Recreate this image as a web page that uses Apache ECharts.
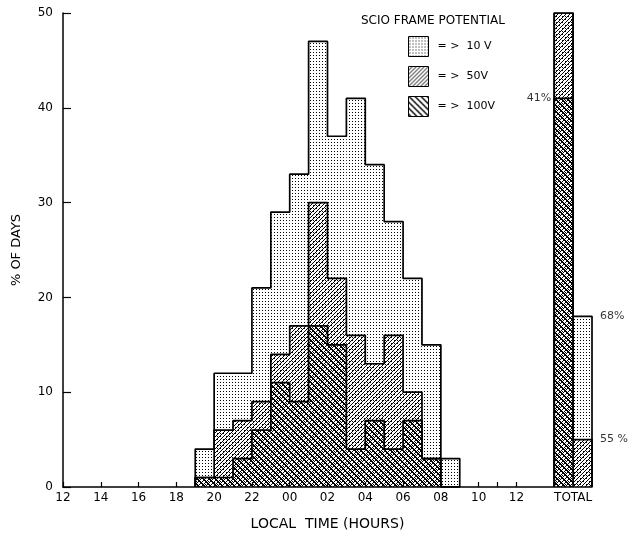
<!DOCTYPE html>
<html>
<head>
<meta charset="utf-8">
<script src="https://cdn.jsdelivr.net/npm/echarts@6/dist/echarts.min.js"></script>
<style>
  * { margin: 0; padding: 0; }
  body { background: #fff; }
  #chart { width: 629px; height: 536px; }
</style>
</head>
<body>
<div id="chart"></div>
<script>
// start hour of each 1-hour bin (local time)
const binHours = ['19','20','21','22','23','00','01','02','03','04','05','06','07','08'];
// % of days with frame potential above each level
const pct10V  = [4, 12, 12, 21, 29, 33, 47, 37, 41, 34, 28, 22, 15, 3];
const pct50V  = [1,  6,  7,  9, 14, 17, 30, 22, 16, 13, 16, 10,  3, 0];
const pct100V = [1,  1,  3,  6, 11,  9, 17, 15,  4,  7,  4,  7,  3, 0];
// totals, order 10V / 50V / 100V
const totalPct = [68, 55, 41];
const totalLabels = ['68%', '55 %', '41%'];
const seriesNames = ['= >  10 V', '= >  50V', '= >  100V'];
const xTickLabels = ['12','14','16','18','20','22','00','02','04','06','08','10','12'];

const FONT = 'DejaVu Sans';
const YMAX = 50;       // axis top, totals above it go into the second column
const TOTAL_X = 26;    // hours after 12:00 where the total columns start

// hour string -> hours after 12:00
function hourPos(h) { return (parseInt(h, 10) + 12) % 24; }

// small canvas tiles used as fills
function makeTile(size, draw) {
  const c = document.createElement('canvas');
  c.width = size; c.height = size;
  const ctx = c.getContext('2d');
  ctx.fillStyle = '#000';
  draw(ctx, size);
  return { image: c, repeat: 'repeat' };
}
const dotFill = makeTile(3, function (ctx) { ctx.fillRect(1, 1, 1, 1); });
const slashFill = makeTile(4, function (ctx, s) {
  for (let i = 0; i < s; i++) ctx.fillRect(i, s - 1 - i, 1, 1);
});
const backFill = makeTile(6, function (ctx, s) {
  for (let i = 0; i < s; i++) { ctx.fillRect(i, i, 1, 1); ctx.fillRect((i + 1) % s, i, 1, 1); }
});
const fills = [dotFill, slashFill, backFill];

function buildBins(vals, total) {
  const d = binHours.map(function (h, i) { return [hourPos(h), hourPos(h) + 1, vals[i]]; });
  d.push([TOTAL_X, TOTAL_X + 1, Math.min(total, YMAX)]);
  if (total > YMAX) d.push([TOTAL_X + 1, TOTAL_X + 2, total - YMAX]);
  return d;
}

// step outline points for each run of adjacent bins
function outlineRuns(bins) {
  const runs = [];
  let cur = null;
  bins.forEach(function (b) {
    if (!cur || cur.end !== b[0]) {
      cur = { end: b[1], pts: [[b[0], 0], [b[0], b[2]]] };
      runs.push(cur);
    } else {
      cur.pts.push([b[0], b[2]]);
      cur.end = b[1];
    }
    cur.last = b;
  });
  runs.forEach(function (r) { r.pts.push([r.last[1], r.last[2]]); r.pts.push([r.last[1], 0]); });
  return runs.map(function (r) { return r.pts; });
}

const allPct = [pct10V, pct50V, pct100V];
const series = [];
allPct.forEach(function (vals, k) {
  const bins = buildBins(vals, totalPct[k]);
  series.push({
    name: seriesNames[k],
    type: 'custom',
    itemStyle: { color: fills[k] },
    data: bins,
    encode: { x: [0, 1], y: 2 },
    silent: true,
    z: 2,
    renderItem: function (params, api) {
      const p0 = api.coord([api.value(0), 0]);
      const p1 = api.coord([api.value(1), api.value(2)]);
      return {
        type: 'rect',
        shape: { x: p0[0], y: p1[1], width: p1[0] - p0[0], height: p0[1] - p1[1] },
        style: { fill: fills[k], stroke: null }
      };
    }
  });
  outlineRuns(bins).forEach(function (pts) {
    series.push({
      type: 'line',
      step: 'end',
      data: pts,
      symbol: 'none',
      silent: true,
      z: 4,
      lineStyle: { color: '#000', width: 1.7 }
    });
  });
});

// percentage notes beside the total columns
const noteData = totalPct.map(function (t, k) {
  return t > YMAX
    ? { value: [TOTAL_X + 2, t - YMAX], name: totalLabels[k], label: { position: 'right', distance: 8 } }
    : { value: [TOTAL_X, t], name: totalLabels[k], label: { position: 'left', distance: 3 } };
});
series.push({
  type: 'scatter',
  symbolSize: 0,
  silent: true,
  data: noteData,
  label: {
    show: true,
    formatter: '{b}',
    color: '#000',
    fontFamily: FONT,
    fontSize: 11
  }
});

const xLabelVals = xTickLabels.map(function (s, i) { return i * 2; }).concat([TOTAL_X + 1]);

const chart = echarts.init(document.getElementById('chart'));
chart.setOption({
  animation: false,
  backgroundColor: '#fff',
  title: {
    text: 'SCIO FRAME POTENTIAL',
    left: 356,
    top: 10,
    textStyle: { fontFamily: FONT, fontSize: 12, fontWeight: 'normal', color: '#000' }
  },
  legend: {
    data: seriesNames,
    orient: 'vertical',
    left: 403,
    top: 31,
    itemWidth: 20,
    itemHeight: 20,
    itemGap: 9,
    selectedMode: false,
    icon: 'rect',
    itemStyle: { borderColor: '#000', borderWidth: 1 },
    textStyle: { fontFamily: FONT, fontSize: 11, color: '#000', padding: [0, 0, 0, 4] }
  },
  grid: { left: 63, right: 37, top: 13, bottom: 49 },
  xAxis: {
    type: 'value',
    min: 0,
    max: TOTAL_X + 2,
    name: 'LOCAL  TIME (HOURS)',
    nameLocation: 'middle',
    nameGap: 30,
    nameTextStyle: { fontFamily: FONT, fontSize: 14, color: '#000' },
    splitLine: { show: false },
    axisLine: { lineStyle: { color: '#000', width: 1.5 } },
    axisTick: { inside: true, length: 5, customValues: xLabelVals.slice(0, -1).concat([23]), lineStyle: { color: '#000', width: 1.2 } },
    axisLabel: {
      customValues: xLabelVals,
      margin: 5,
      fontFamily: FONT,
      fontSize: 12,
      color: '#000',
      formatter: function (v) { return v === TOTAL_X + 1 ? 'TOTAL' : xTickLabels[v / 2]; }
    }
  },
  yAxis: {
    type: 'value',
    min: 0,
    max: YMAX,
    interval: 10,
    name: '% OF DAYS',
    nameLocation: 'middle',
    nameGap: 40,
    nameTextStyle: { fontFamily: FONT, fontSize: 13, color: '#000' },
    splitLine: { show: false },
    axisLine: { show: true, lineStyle: { color: '#000', width: 1.5 } },
    axisTick: { show: true, inside: true, length: 8, lineStyle: { color: '#000', width: 1.2 } },
    axisLabel: { margin: 10, fontFamily: FONT, fontSize: 12, color: '#000' }
  },
  series: series
});
</script>
</body>
</html>
